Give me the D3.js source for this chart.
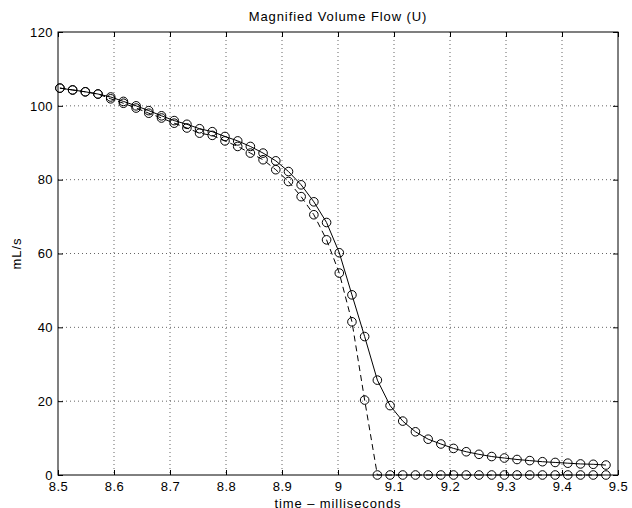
<!DOCTYPE html>
<html>
<head>
<meta charset="utf-8">
<script src="https://cdn.jsdelivr.net/npm/d3@7"></script>
<style>
  body { margin: 0; background: #fff; }
  svg text { font-family: "Liberation Sans", Arial, Helvetica, sans-serif; font-size: 13px; fill: #000; letter-spacing: 0.4px; }
  .grid line { stroke: #000; stroke-width: 1; stroke-dasharray: 1,3; opacity: 0.6; }
  .frame { fill: none; stroke: #000; stroke-width: 1; }
  .marker { fill: none; stroke: #000; stroke-width: 1; }
  .label { letter-spacing: 0.9px; }
</style>
</head>
<body>
<svg id="chart" width="632" height="508"></svg>
<script>
// sample times (ms), 44.1 kHz samples 375..418
var times = [8.5034, 8.5261, 8.5488, 8.5714, 8.5941, 8.6168, 8.6395, 8.6621, 8.6848, 8.7075,
  8.7302, 8.7528, 8.7755, 8.7982, 8.8209, 8.8435, 8.8662, 8.8889, 8.9116, 8.9342,
  8.9569, 8.9796, 9.0023, 9.0249, 9.0476, 9.0703, 9.0930, 9.1156, 9.1383, 9.1610,
  9.1837, 9.2063, 9.2290, 9.2517, 9.2744, 9.2971, 9.3197, 9.3424, 9.3651, 9.3878,
  9.4104, 9.4331, 9.4558, 9.4785];

// solid curve
var flowSolid = [104.8, 104.3, 103.8, 103.2, 102.4, 101.2, 100.0, 98.7, 97.3, 96.0,
  95.0, 93.8, 93.0, 91.7, 90.5, 89.0, 87.2, 85.1, 82.2, 78.6,
  74.0, 68.4, 60.2, 48.8, 37.5, 25.7, 18.8, 14.6, 11.7, 9.7,
  8.4, 7.2, 6.3, 5.6, 5.0, 4.6, 4.2, 3.9, 3.6, 3.4,
  3.2, 3.0, 2.9, 2.7];

// dashed curve
var flowDashed = [104.8, 104.3, 103.8, 103.2, 101.9, 100.7, 99.4, 98.0, 96.7, 95.3,
  94.0, 92.6, 92.0, 90.5, 89.0, 87.2, 85.4, 82.7, 79.5, 75.4,
  70.5, 63.7, 54.7, 41.5, 20.3, 0, 0, 0, 0, 0,
  0, 0, 0, 0, 0, 0, 0, 0, 0, 0,
  0, 0, 0, 0];

var xTicks = [8.5, 8.6, 8.7, 8.8, 8.9, 9, 9.1, 9.2, 9.3, 9.4, 9.5];
var yTicks = [0, 20, 40, 60, 80, 100, 120];

var plotLeft = 58, plotRight = 618, plotTop = 32, plotBottom = 475;

var svg = d3.select("#chart");

var x = d3.scaleLinear().domain([8.5, 9.5]).range([plotLeft, plotRight]);
var y = d3.scaleLinear().domain([0, 120]).range([plotBottom, plotTop]);

// dotted grid
var grid = svg.append("g").attr("class", "grid");
grid.selectAll("line.gx")
  .data(xTicks.slice(1, -1))
  .enter().append("line")
  .attr("class", "gx")
  .attr("x1", function(d){ return x(d); })
  .attr("x2", function(d){ return x(d); })
  .attr("y1", plotTop)
  .attr("y2", plotBottom);
grid.selectAll("line.gy")
  .data(yTicks.slice(1, -1))
  .enter().append("line")
  .attr("class", "gy")
  .attr("x1", plotLeft)
  .attr("x2", plotRight)
  .attr("y1", function(d){ return y(d); })
  .attr("y2", function(d){ return y(d); });

// axes, ticks pointing inwards like matlab
var fmt = function(d){ return String(d); };
svg.append("g")
  .attr("transform", "translate(0," + plotBottom + ")")
  .call(d3.axisBottom(x).tickValues(xTicks).tickFormat(fmt).tickSize(-5).tickPadding(7));
svg.append("g")
  .attr("transform", "translate(0," + plotTop + ")")
  .call(d3.axisTop(x).tickValues(xTicks).tickFormat("").tickSize(-5));
svg.append("g")
  .attr("transform", "translate(" + plotLeft + ",0)")
  .call(d3.axisLeft(y).tickValues(yTicks).tickFormat(fmt).tickSize(-5).tickPadding(5));
svg.append("g")
  .attr("transform", "translate(" + plotRight + ",0)")
  .call(d3.axisRight(y).tickValues(yTicks).tickFormat("").tickSize(-5));

svg.selectAll(".domain").remove();
svg.selectAll(".tick text").attr("font-size", null).attr("font-family", null);
svg.selectAll(".tick line").attr("stroke", "#000");

svg.append("rect")
  .attr("class", "frame")
  .attr("x", plotLeft)
  .attr("y", plotTop)
  .attr("width", plotRight - plotLeft)
  .attr("height", plotBottom - plotTop);

// lines
var solidPts = times.map(function(t, i){ return [t, flowSolid[i]]; });
var dashedPts = times.map(function(t, i){ return [t, flowDashed[i]]; });
var line = d3.line().x(function(d){ return x(d[0]); }).y(function(d){ return y(d[1]); });

svg.append("path")
  .datum(dashedPts)
  .attr("d", line)
  .attr("fill", "none")
  .attr("stroke", "#000")
  .attr("stroke-width", 1)
  .attr("stroke-dasharray", "6,4");
svg.append("path")
  .datum(solidPts)
  .attr("d", line)
  .attr("fill", "none")
  .attr("stroke", "#000")
  .attr("stroke-width", 1);

svg.append("g").selectAll("circle")
  .data(dashedPts)
  .enter().append("circle")
  .attr("class", "marker")
  .attr("cx", function(d){ return x(d[0]); })
  .attr("cy", function(d){ return y(d[1]); })
  .attr("r", 4.3);
svg.append("g").selectAll("circle")
  .data(solidPts)
  .enter().append("circle")
  .attr("class", "marker")
  .attr("cx", function(d){ return x(d[0]); })
  .attr("cy", function(d){ return y(d[1]); })
  .attr("r", 4.3);

// labels
svg.append("text")
  .attr("class", "label")
  .attr("x", (plotLeft + plotRight) / 2)
  .attr("y", 21)
  .attr("text-anchor", "middle")
  .text("Magnified Volume Flow (U)");
svg.append("text")
  .attr("class", "label")
  .attr("x", (plotLeft + plotRight) / 2)
  .attr("y", 508)
  .attr("text-anchor", "middle")
  .text("time – milliseconds");
svg.append("text")
  .attr("class", "label")
  .attr("transform", "translate(21," + ((plotTop + plotBottom) / 2) + ") rotate(-90)")
  .attr("text-anchor", "middle")
  .text("mL/s");
</script>
</body>
</html>
